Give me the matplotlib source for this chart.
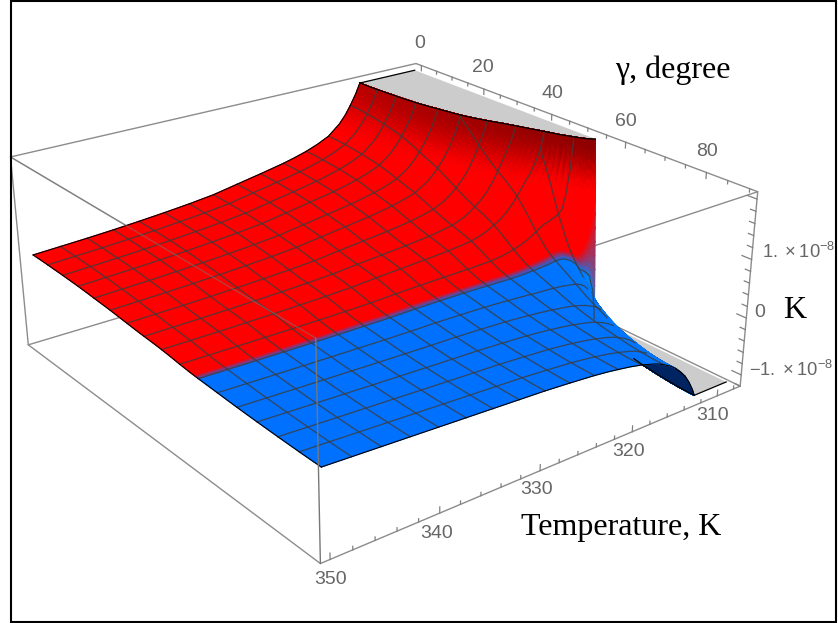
import numpy as np
import matplotlib
matplotlib.use("Agg")
import matplotlib.pyplot as plt
from matplotlib.patches import Rectangle
from mpl_toolkits.mplot3d.art3d import Poly3DCollection

W, H = 838, 623

# ---- values (K in units of 1e-8) ----
temperature = np.array([308, 308.25, 308.5, 308.75, 309, 309.4, 309.8, 310.2, 310.625, 311, 311.4, 311.8,
                        312.2, 312.7, 313.25, 313.8, 314.5, 315.2, 315.875, 316.5, 317.2, 318.5, 319.8,
                        321.125, 322.4, 323.75, 326.375, 329, 331.625, 334.25, 336.875, 339.5, 342.125,
                        344.75, 347.375, 350])
k_at_gamma_0 = np.array([81.0, 54.0, 38.0, 27.0, 19.0, 12.4, 8.9, 6.75, 5.6, 4.95, 4.45, 4.0,
                         3.65, 3.25, 2.85, 2.5, 2.14, 1.88, 1.68, 1.52, 1.38, 1.20, 1.10,
                         1.02, 0.96, 0.905, 0.82, 0.74, 0.66, 0.61, 0.57, 0.535, 0.505,
                         0.48, 0.46, 0.44])
k_at_gamma_90 = np.array([-30.0, -20.0, -14.0, -10.0, -7.0, -4.6, -3.3, -2.5, -1.96, -1.65, -1.40, -1.19,
                          -1.02, -0.86, -0.72, -0.62, -0.51, -0.43, -0.37, -0.32, -0.28, -0.22, -0.175,
                          -0.14, -0.11, -0.085, -0.05, -0.02, 0.0, 0.02, 0.04, 0.06, 0.08,
                          0.10, 0.12, 0.14])
gamma = np.array([0, 2.8125, 5.625, 8.4375, 11.25, 14.0625, 16.875, 19.6875, 22.5, 25.3125, 28.125, 30.9375,
                  33.75, 36.5625, 39.375, 42.1875, 45, 47.8125, 50.625, 52, 53, 53.5, 54, 54.5, 55, 55.5,
                  56.25, 57, 57.5, 58, 58.5, 59.0625, 60, 61.875, 64.6875, 67.5, 70.3125, 73.125, 75.9375,
                  78.75, 81.5625, 84.375, 87.1875, 90])
gamma_weight = np.array([1, .997, .988, .975, .96, .94, .918, .885, .845, .808, .771, .72,
                         .668, .618, .576, .539, .493, .431, .359, .33, .309, .299, .29, .282,
                         .275, .268, .258, .249, .243, .237, .231, .225, .213, .19, .155, .125,
                         .098, .075, .055, .038, .023, .011, .003, 0])
mesh_temperature = [310.625, 313.25, 315.875, 318.5, 321.125, 323.75, 326.375, 329, 331.625, 334.25,
                    336.875, 339.5, 342.125, 344.75, 347.375]
mesh_gamma = [5.625, 11.25, 16.875, 22.5, 28.125, 33.75, 39.375, 45, 50.625, 56.25, 61.875, 67.5, 73.125,
              78.75, 84.375]
clip_low, clip_high = -1.14, 2.06
box_T = (307.16, 350.84)
box_gamma = (-1.8, 91.8)
box_k = (-1.2, 2.12)
color_edge_T = [308, 350]
color_edge_gamma = [55.5, 56.0]
temperature_ticks = np.arange(308, 351, 2)
gamma_ticks = np.arange(0, 91, 5)
k_ticks = np.round(np.arange(-1.2, 2.01, 0.2), 1)
temperature_labels = ["310", "320", "330", "340", "350"]
gamma_labels = ["0", "20", "40", "60", "80"]

# ---- figure, with a square 3D axes covering the whole picture ----
fig = plt.figure(figsize=(W / 100, H / 100), dpi=100, facecolor="white")
side = W / H
ax = fig.add_axes([0, (1 - side) / 2, 1, side], projection="3d")
ax.set_axis_off()
ax.patch.set_visible(False)
ax.computed_zorder = False
ax.apply_aspect()

# camera: projective map fitted to the eight box corners seen in the picture
corner_world = np.array([[box_T[i], box_gamma[j], box_k[k]] for k in (1, 0) for j in (0, 1) for i in (0, 1)])
corner_px = np.array([[415, 62], [12, 157], [758, 192], [315, 340],
                      [416, 232], [27, 343], [740, 384], [321, 564]], float)
uv = ax.transData.inverted().transform(np.c_[corner_px[:, 0], H - corner_px[:, 1]])
s = np.abs(uv).max()
uvn = uv / s
lo = corner_world.min(axis=0)
hi = corner_world.max(axis=0)
ctr, half = (lo + hi) / 2, (hi - lo) / 2
N = np.eye(4)
N[0, 0], N[1, 1], N[2, 2] = 1 / half
N[:3, 3] = -ctr / half
Xh = np.c_[(corner_world - ctr) / half, np.ones(8)]
A = []
for x_, (u, v) in zip(Xh, uvn):
    A.append(np.r_[x_, 0 * x_, -u * x_])
    A.append(np.r_[0 * x_, x_, -v * x_])
P = np.linalg.svd(np.array(A))[2][-1].reshape(3, 4)
P = np.diag([s, s, 1.0]) @ P @ N
P = P / (P[2] @ np.r_[ctr, 1.0])
M = np.array([P[0], P[1], [0, 0, 0, -1.0], P[2]])
ax.get_proj = lambda: M


def project(x, y, z):
    w = P[2, 0] * x + P[2, 1] * y + P[2, 2] * z + P[2, 3]
    return ((P[0, 0] * x + P[0, 1] * y + P[0, 2] * z + P[0, 3]) / w,
            (P[1, 0] * x + P[1, 1] * y + P[1, 2] * z + P[1, 3]) / w)


# ---- surface ----
raw = np.outer(k_at_gamma_90, np.ones_like(gamma)) + np.outer(k_at_gamma_0 - k_at_gamma_90, gamma_weight)
G, TT = np.meshgrid(gamma, temperature)
X = TT.copy()
Z = raw.copy()
clipped = np.zeros_like(raw, bool)
T_clip = np.full(gamma.size, np.nan)
kind = np.zeros(gamma.size, int)
for j in range(gamma.size):
    col = raw[:, j]
    if col[0] > clip_high:
        level, kind[j] = clip_high, 1
        n = int(np.argmax(col <= clip_high))
    elif col[0] < clip_low:
        level, kind[j] = clip_low, -1
        n = int(np.argmax(col >= clip_low))
    else:
        continue
    f = (level - col[n - 1]) / (col[n] - col[n - 1])
    T_clip[j] = temperature[n - 1] + f * (temperature[n] - temperature[n - 1])
    X[:n, j] = T_clip[j]
    Z[:n, j] = level
    clipped[:n, j] = True


def refine(a, k=3):
    """Subdivide every grid cell for smoother colouring; no new values are read."""
    ni = np.linspace(0, a.shape[0] - 1, (a.shape[0] - 1) * k + 1)
    nj = np.linspace(0, a.shape[1] - 1, (a.shape[1] - 1) * k + 1)
    i0 = np.minimum(ni.astype(int), a.shape[0] - 2)
    j0 = np.minimum(nj.astype(int), a.shape[1] - 2)
    fi = (ni - i0)[:, None]
    fj = (nj - j0)[None, :]
    r0 = a[i0][:, j0]
    r1 = a[i0 + 1][:, j0]
    r2 = a[i0][:, j0 + 1]
    r3 = a[i0 + 1][:, j0 + 1]
    return r0 * (1 - fi) * (1 - fj) + r1 * fi * (1 - fj) + r2 * (1 - fi) * fj + r3 * fi * fj


dzdT = np.gradient(raw, temperature, axis=0)
dzdg = np.gradient(raw, gamma, axis=1)
slope = np.minimum(np.hypot(dzdT, dzdg / 0.47), 40)

Xf, Gf, Zf, Sf = refine(X), refine(G), refine(Z), refine(slope)
xp, yp = project(Xf, Gf, Zf)


def cell_area(xa, ya):
    d1x, d1y = xa[1:, 1:] - xa[:-1, :-1], ya[1:, 1:] - ya[:-1, :-1]
    d2x, d2y = xa[:-1, 1:] - xa[1:, :-1], ya[:-1, 1:] - ya[1:, :-1]
    return d1x * d2y - d1y * d2x


def cell_mean(a):
    return (a[1:, 1:] + a[:-1, :-1] + a[:-1, 1:] + a[1:, :-1]) / 4


area = cell_area(xp, yp)
front_sign = np.sign(area[-1, 0])
zc, gc, tc, sc = cell_mean(Zf), cell_mean(Gf), cell_mean(Xf), cell_mean(Sf)

t = np.clip((zc - 1.2) / 0.86, 0, 1)
t = t * t * (3 - 2 * t)
b = 1 - (0.27 + 0.18 * np.minimum(gc / 55, 1)) * t
red = np.stack([b, 0 * b, 0 * b], axis=-1)
blue = np.stack([0 * b, 0.44 + 0.12 * (1 - np.exp(-sc / 0.5)), 0 * b + 1], axis=-1)
edge = np.interp(tc, color_edge_T, color_edge_gamma)
f = np.clip((gc - edge) / 1.8 + 0.5, 0, 1)[..., None]
cc = (1 - f) * red + f * blue
back = (area * front_sign < 0) & (gc > 58)
cc[back] = (0.0, 0.14, 0.38)
C = np.ones(Xf.shape + (4,))
C[:-1, :-1, :3] = cc

# vertices of the coarse grid that lie on the far side of the fold
xc_, yc_ = project(X, G, Z)
coarse_back = cell_area(xc_, yc_) * front_sign < 0
hidden = np.zeros_like(Z, bool)
hidden[:-1, :-1] |= coarse_back
hidden[1:, :-1] |= coarse_back
hidden[:-1, 1:] |= coarse_back
hidden[1:, 1:] |= coarse_back
hidden &= G > 58

LINE = "#8c8c8c"


def box_edge(a, b, z=1, lw=1.0, color=LINE, alpha=1.0):
    ax.plot([a[0], b[0]], [a[1], b[1]], [a[2], b[2]], color=color, lw=lw, alpha=alpha, zorder=z,
            solid_capstyle="round")


Tl, Th = box_T
gl, gh = box_gamma
kl, kh = box_k
box_edge((Tl, gl, kh), (Th, gl, kh))
box_edge((Tl, gl, kh), (Tl, gh, kh))
box_edge((Th, gl, kh), (Th, gl, kl))
box_edge((Tl, gh, kh), (Tl, gh, kl))
box_edge((Th, gl, kl), (Th, gh, kl))
box_edge((Tl, gh, kl), (Th, gh, kl))
box_edge((Th, gl, kl), (Tl, gl, kl))
box_edge((Tl, gh, kl), (Tl, gl, kl))
box_edge((Tl, gh, kh), (Th, gh, kh))
box_edge((Th, gl, kh), (Th, gh, kh), z=1)
box_edge((Th, gl, kh), (Th, gh, kh), z=6, alpha=0.55, lw=0.9, color="#777777")
box_edge((Th, gh, kh), (Th, gh, kl), z=6, color="#777777", lw=1.0)

# caps where the surface leaves the plot range
for sign, level in ((1, clip_high), (-1, clip_low)):
    idx = np.where(kind == sign)[0]
    gs = gamma[idx]
    tcl = T_clip[idx]
    verts = list(zip(tcl, gs, np.full(gs.size, level))) + \
        list(zip(np.full(gs.size, temperature[0])[::-1], gs[::-1], np.full(gs.size, level)))
    cap = Poly3DCollection([verts], facecolor="#cccccc", edgecolor="none")
    ax.add_collection3d(cap)
    cap.set_zorder(2)
    if sign == 1:
        ax.plot(tcl, gs, np.full(gs.size, level), color="black", lw=0.9, zorder=5)
        ax.plot([temperature[0], tcl[0]], [0, 0], [level, level], color="black", lw=0.9, zorder=5)
    else:
        near = gs >= 73
        ax.plot(tcl[near], gs[near], np.full(near.sum(), level), color="black", lw=0.9, zorder=5)
        ax.plot([temperature[0], tcl[-1]], [90, 90], [level, level], color="black", lw=0.9, zorder=5)

surf = ax.plot_surface(Xf, Gf, Zf, facecolors=C, rstride=1, cstride=1, shade=False, linewidth=0.8,
                       antialiased=True)
surf.set_zorder(3)

# mesh lines
MESH = dict(color="#3c3c3c", lw=0.95, alpha=0.8, zorder=4)
for t_m in mesh_temperature:
    i = int(np.argmin(np.abs(temperature - t_m)))
    zl = np.where(clipped[i] | hidden[i], np.nan, Z[i])
    ax.plot(X[i], G[i], zl, **MESH)
for g_m in mesh_gamma:
    j = int(np.argmin(np.abs(gamma - g_m)))
    zl = np.where(hidden[:, j], np.nan, Z[:, j])
    ax.plot(X[:, j], G[:, j], zl, **MESH)

# outer edges of the surface
EDGE = dict(color="black", lw=0.8, zorder=5)
ax.plot(X[-1], G[-1], Z[-1], **EDGE)
ax.plot(X[:, 0], G[:, 0], Z[:, 0], **EDGE)
ax.plot(X[:, -1], G[:, -1], Z[:, -1], **EDGE)

# ticks
TICK = dict(color="#808080", lw=0.9, zorder=6)
for t_v in temperature_ticks:
    d = 0.10 if t_v % 10 == 0 else 0.055
    ax.plot([t_v, t_v], [gh, gh], [kl, kl + d], **TICK)
for g_v in gamma_ticks:
    d = 0.10 if g_v % 20 == 0 else 0.055
    ax.plot([Tl, Tl], [g_v, g_v], [kh, kh - d], **TICK)
for k_v in k_ticks:
    d = 2.2 if abs(k_v) % 1 < 1e-6 else 1.2
    ax.plot([Tl, Tl], [gh, gh - d], [k_v, k_v], **TICK)


# text
def px_text(x, y, s, **kw):
    fig.text(x / W, 1 - y / H, s, ha=kw.pop("ha", "center"), va="center", **kw)


TICKFONT = dict(family=["Liberation Sans", "DejaVu Sans"], size=14, color="#666666")
SMALLTICK = dict(family=["Liberation Sans", "DejaVu Sans"], size=13.2, color="#666666")
for s_, (x_, y_) in zip(temperature_labels, [(713, 415), (629, 452), (537, 490), (437, 533), (331, 580)]):
    px_text(x_, y_, s_, **TICKFONT)
for s_, (x_, y_) in zip(gamma_labels, [(420, 43), (483, 67), (552, 93), (626, 121), (707, 152)]):
    px_text(x_, y_, s_, **TICKFONT)
plt.rcParams["mathtext.fontset"] = "custom"
plt.rcParams["mathtext.rm"] = "Liberation Sans"
plt.rcParams["mathtext.default"] = "regular"
px_text(762, 252, r"$1.\times10^{-8}$", ha="left", **SMALLTICK)
px_text(760, 312, "0", **TICKFONT)
px_text(749, 370, r"$-1.\times10^{-8}$", ha="left", **SMALLTICK)

TITLE = dict(family="Liberation Serif", size=23, color="black")
px_text(621, 527, "Temperature, K", **TITLE)
px_text(673, 70, "\u03b3, degree", **TITLE)
px_text(795, 311, "K", **TITLE)

fig.add_artist(Rectangle((11 / W, 1 / H), 825 / W, 621 / H, transform=fig.transFigure,
                         fill=False, edgecolor="black", linewidth=1.5))

fig.savefig("out.png", dpi=100)
